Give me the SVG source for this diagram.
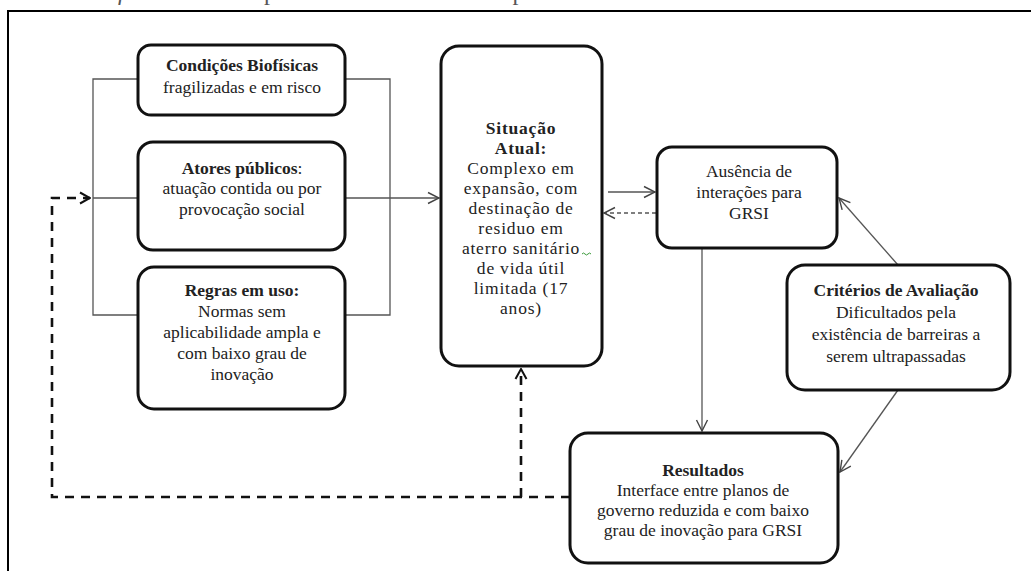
<svg xmlns="http://www.w3.org/2000/svg" width="1031" height="571" viewBox="0 0 1031 571">
<style>
.box{fill:#fff;stroke:#111;stroke-width:3}
.t{font-family:"Liberation Serif","Times New Roman",serif;font-size:17.5px;fill:#222;text-anchor:middle}
.b{font-weight:bold}
.ls{letter-spacing:0.8px}
.ln{fill:none;stroke:#555;stroke-width:1.3}
.dl{fill:none;stroke:#555;stroke-width:1.3;stroke-dasharray:4 3}
.dk{fill:none;stroke:#111;stroke-width:2.6;stroke-dasharray:9 7}
.cap{font-family:"Liberation Serif","Times New Roman",serif;font-size:24px;fill:#555}
</style>
<defs>
<marker id="a" viewBox="0 0 14 14" refX="13" refY="7" markerWidth="14" markerHeight="14" markerUnits="userSpaceOnUse" orient="auto">
<path d="M2,1.5 L13,7 L2,12.5" fill="none" stroke="#444" stroke-width="1.4"/>
</marker>
<marker id="ad" viewBox="0 0 14 14" refX="13" refY="7" markerWidth="14" markerHeight="14" markerUnits="userSpaceOnUse" orient="auto">
<path d="M3,1.5 L13,7 L3,12.5" fill="none" stroke="#111" stroke-width="2"/>
</marker>
</defs>
<rect width="1031" height="571" fill="#fff"/>
<text class="cap" x="118" y="0"><tspan font-style="italic" letter-spacing="4">framework</tspan> para a Gestão Intermunicipal de Resíduos Sólidos Industriais no C</text>
<path d="M8,571 V11 H1031" fill="none" stroke="#000" stroke-width="2"/>

<g id="connectors">
<path class="ln" d="M138,79 H93 V315 H138 M93,198 H138"/>
<path class="ln" d="M345,79 H390 V315 H345"/>
<path class="ln" d="M345,198 H439" marker-end="url(#a)"/>
<path class="dk" d="M570,497 H52 V198 H90" marker-end="url(#ad)"/>
<path class="dk" d="M521,497 V369" marker-end="url(#ad)"/>
<path class="ln" d="M608,192 H655" marker-end="url(#a)"/>
<path class="dl" d="M656,213 H604" marker-end="url(#a)"/>
<path class="ln" d="M702,248 V431" marker-end="url(#a)"/>
<path class="ln" d="M898,265 L839,198" marker-end="url(#a)"/>
<path class="ln" d="M898,390 L840,472" marker-end="url(#a)"/>
</g>

<g id="condicoes">
<rect class="box" x="138" y="45" width="207" height="70" rx="13"/>
<text class="t b" x="242" y="71">Condições Biofísicas</text>
<text class="t" x="242" y="93">fragilizadas e em risco</text>
</g>

<g id="atores">
<rect class="box" x="138" y="142" width="207" height="108" rx="15"/>
<text class="t" x="242" y="174"><tspan class="b">Atores públicos</tspan>:</text>
<text class="t" x="242" y="194">atuação contida ou por</text>
<text class="t" x="242" y="215">provocação social</text>
</g>

<g id="regras">
<rect class="box" x="138" y="267" width="207" height="142" rx="16"/>
<text class="t b" x="242" y="296">Regras em uso:</text>
<text class="t" x="242" y="317">Normas sem</text>
<text class="t" x="242" y="338">aplicabilidade ampla e</text>
<text class="t" x="242" y="359">com baixo grau de</text>
<text class="t" x="242" y="380">inovação</text>
</g>

<g id="situacao">
<rect class="box" x="441" y="46" width="161" height="320" rx="18"/>
<text class="t b ls" x="521" y="134">Situação</text>
<text class="t b ls" x="521" y="154">Atual:</text>
<text class="t ls" x="521" y="174">Complexo em</text>
<text class="t ls" x="521" y="194">expansão, com</text>
<text class="t ls" x="521" y="214">destinação de</text>
<text class="t ls" x="521" y="234">residuo em</text>
<text class="t ls" x="521" y="254">aterro sanitário</text>
<text class="t ls" x="521" y="274">de vida útil</text>
<text class="t ls" x="521" y="294">limitada (17</text>
<text class="t ls" x="521" y="314">anos)</text>
<path d="M582,254 q1.5,-2 3,0 t3,0 t3,0" fill="none" stroke="#3a9a3a" stroke-width="1"/>
</g>

<g id="ausencia">
<rect class="box" x="657" y="147" width="180" height="101" rx="15"/>
<text class="t" x="749" y="177">Ausência de</text>
<text class="t" x="749" y="198">interações para</text>
<text class="t" x="749" y="219">GRSI</text>
</g>

<g id="criterios">
<rect class="box" x="787" y="265" width="223" height="125" rx="18"/>
<text class="t b" x="896" y="296">Critérios de Avaliação</text>
<text class="t" x="896" y="318">Dificultados pela</text>
<text class="t" x="896" y="340">existência de barreiras a</text>
<text class="t" x="896" y="362">serem ultrapassadas</text>
</g>

<g id="resultados">
<rect class="box" x="570" y="433" width="268" height="130" rx="18"/>
<text class="t b" x="703" y="476">Resultados</text>
<text class="t" x="703" y="496">Interface entre planos de</text>
<text class="t" x="703" y="516">governo reduzida e com baixo</text>
<text class="t" x="703" y="536">grau de inovação para GRSI</text>
</g>
</svg>
